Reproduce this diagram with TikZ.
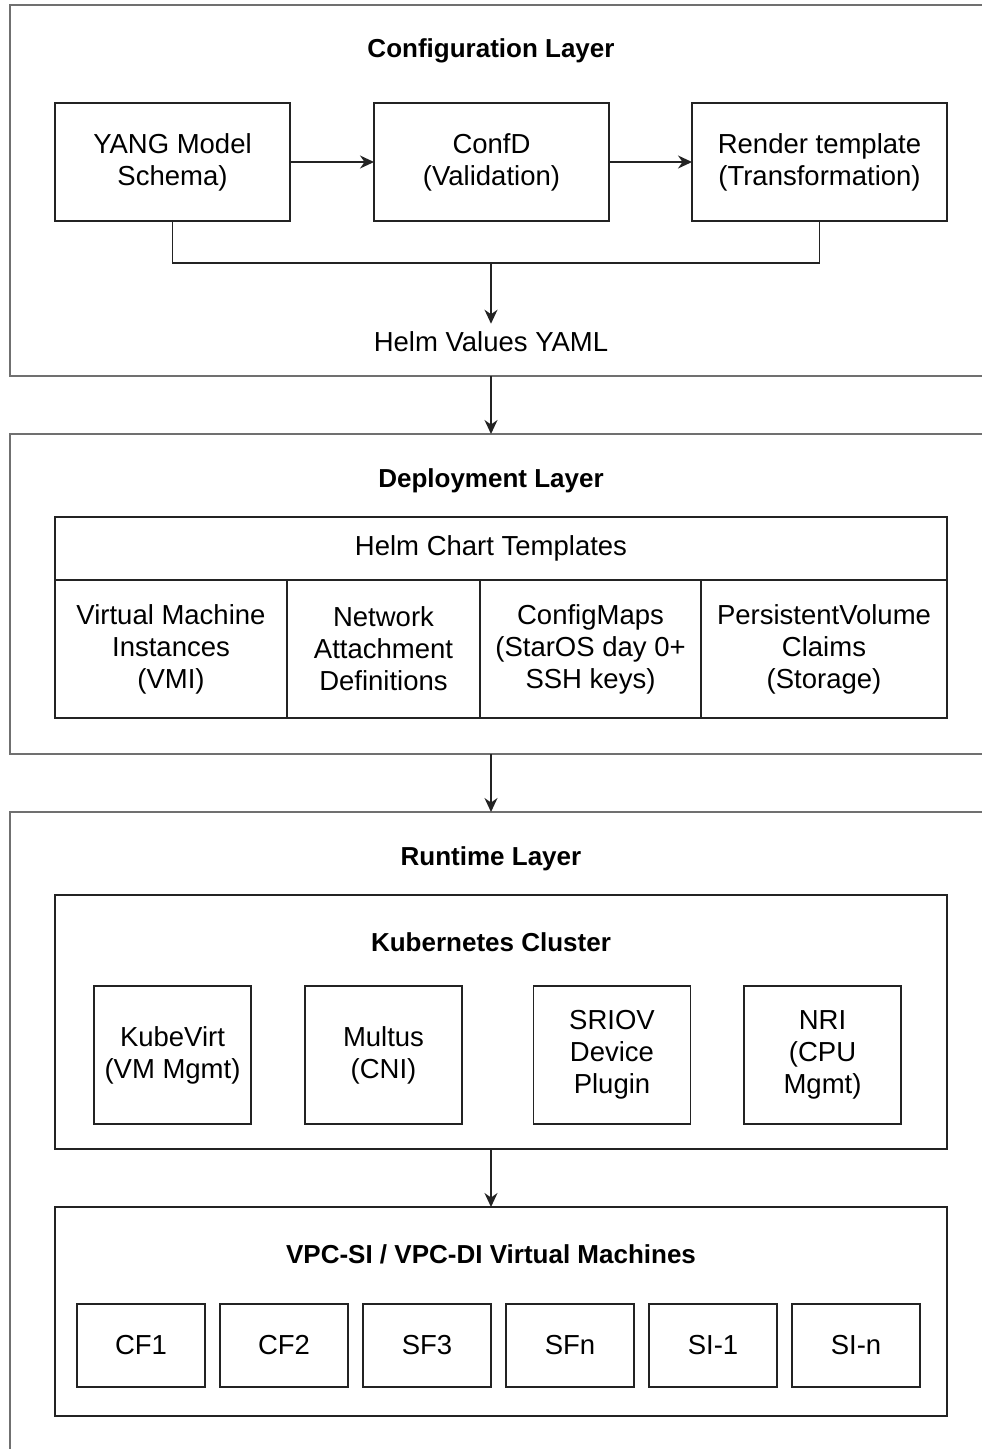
\documentclass[tikz,border=0pt]{standalone}
\usepackage{fontspec}
\setmainfont{Liberation Sans}
\usetikzlibrary{arrows.meta}

\definecolor{layergray}{RGB}{112,112,112}
\definecolor{boxline}{RGB}{35,35,35}

\tikzset{
  layer/.style={draw=layergray, line width=2.2pt, minimum width=1000pt, anchor=north west, inner sep=0pt, outer sep=0pt},
  box/.style={draw=boxline, line width=1.8pt, align=center, inner sep=0pt, outer sep=0pt,
              font=\fontsize{27.5}{32}\selectfont},
  ttl/.style={font=\fontsize{26}{30}\selectfont\bfseries, inner sep=0pt},
  plain/.style={font=\fontsize{27.5}{32}\selectfont, inner sep=0pt},
  flow/.style={line width=1.6pt, draw=boxline, -{Stealth[length=14pt, width=13pt]}},
  wire/.style={line width=1.6pt, draw=boxline}
}

\begin{document}
\begin{tikzpicture}[x=1pt, y=-1pt]
        \useasboundingbox (0,0) rectangle (982,1449);
        \clip (0,0) rectangle (982,1449);

        % layers
        \node [layer, minimum height=371pt] (cfg) at (10,5) {};
        \node [layer, minimum height=320pt] (dep) at (10,434) {};
        \node [layer, minimum height=700pt] (run) at (10,812) {};

        % configuration layer
        \begin{scope}[every node/.style={box, minimum height=118pt}]
                \node [minimum width=235pt] (yang) at (172.5,162) {YANG Model\\Schema)};
                \node [minimum width=235pt] (confd) at (491.5,162) {ConfD\\(Validation)};
                \node [minimum width=255pt] (render) at (819.5,162) {Render template\\(Transformation)};
        \end{scope}
        \node [ttl] (cfgttl) at (491,51) {Configuration Layer};
        \coordinate (merge) at (491,263);
        \node [plain] (helm) at (491,342) {Helm Values YAML};

        \draw [flow] (yang) -- (confd);
        \draw [flow] (confd) -- (render);
        \draw [wire] (yang.south) |- (merge) -| (render.south);
        \draw [flow] (merge) -- ([yshift=8pt]helm.north);

        % deployment layer
        \node [ttl] (depttl) at (491,481) {Deployment Layer};
        \node [box, minimum width=892pt, minimum height=63pt] (chart) at (501,548.5) {};
        \node [plain] (charttxt) at (491,548) {Helm Chart Templates};
        \begin{scope}[every node/.style={box, minimum height=138pt, anchor=north west}]
                \node [minimum width=232pt] (vmi) at (55,580) {Virtual Machine\\Instances\\(VMI)};
                \node [minimum width=193pt] (nad) at (287,580) {Network\\Attachment\\Definitions};
                \node [minimum width=221pt] (cmap) at (480,580) {ConfigMaps\\(StarOS day 0+\\SSH keys)};
                \node [minimum width=246pt] (pvc) at (701,580) {PersistentVolume\\Claims\\(Storage)};
        \end{scope}

        % runtime layer
        \node [ttl] (runttl) at (491,859) {Runtime Layer};
        \node [box, minimum width=892pt, minimum height=254pt] (kube) at (501,1022) {};
        \node [ttl] (kubettl) at (491,942) {Kubernetes Cluster};
        \begin{scope}[every node/.style={box, minimum width=157pt, minimum height=138pt}]
                \node (kvirt) at (172.5,1055) {KubeVirt\\(VM Mgmt)};
                \node (multus) at (383.5,1055) {Multus\\(CNI)};
                \node (sriov) at (612,1055) {SRIOV\\Device\\Plugin};
                \node (nri) at (822.5,1055) {NRI\\(CPU\\Mgmt)};
        \end{scope}

        \node [box, minimum width=892pt, minimum height=209pt] (vpc) at (501,1311.5) {};
        \node [ttl] (vpcttl) at (491,1254) {VPC-SI / VPC-DI Virtual Machines};
        \begin{scope}[every node/.style={box, minimum width=128pt, minimum height=83pt}]
                \node (cf1) at (141,1345.5) {CF1};
                \node (cf2) at (284,1345.5) {CF2};
                \node (sf3) at (427,1345.5) {SF3};
                \node (sfn) at (570,1345.5) {SFn};
                \node (si1) at (713,1345.5) {SI-1};
                \node (sin) at (856,1345.5) {SI-n};
        \end{scope}

        % between layers
        \draw [flow] (helm.center |- cfg.south) -- (helm.center |- dep.north);
        \draw [flow] (helm.center |- dep.south) -- (helm.center |- run.north);
        \draw [flow] (helm.center |- kube.south) -- (helm.center |- vpc.north);
\end{tikzpicture}
\end{document}
